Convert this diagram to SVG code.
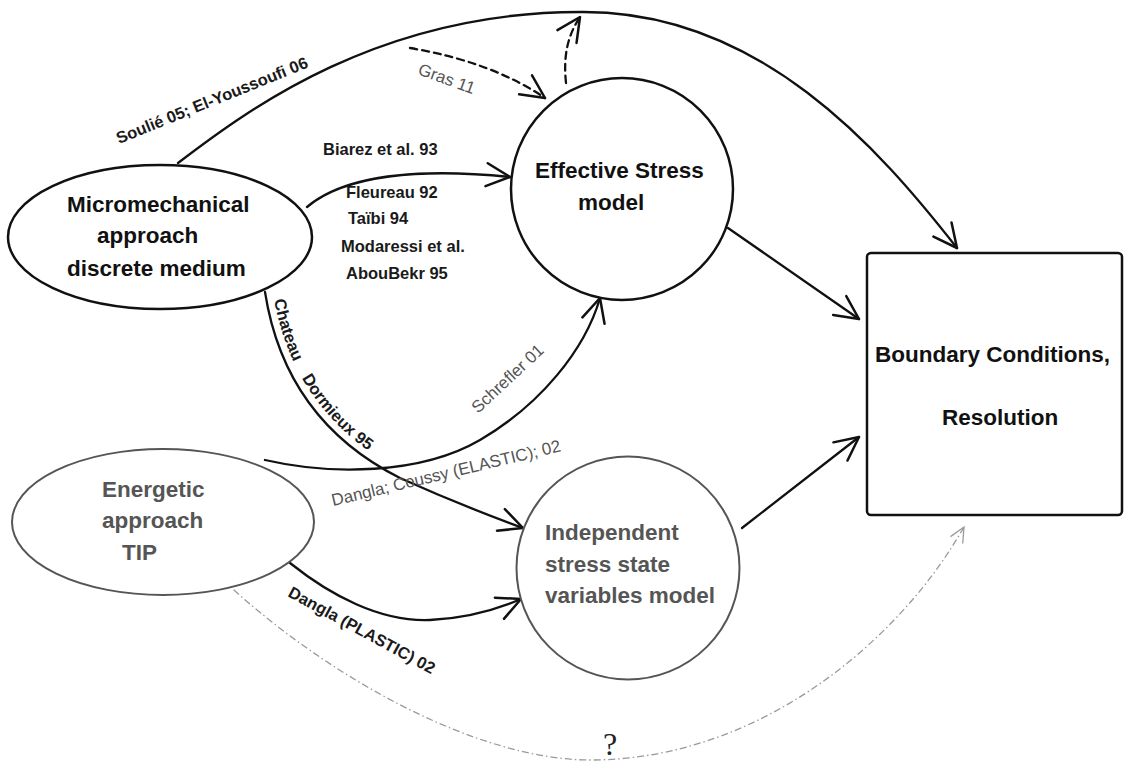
<svg xmlns="http://www.w3.org/2000/svg" width="1124" height="762" viewBox="0 0 1124 762">
  <style>
    .node { fill: #fff; }
    .blk { stroke: #111; stroke-width: 2.5; }
    .gry { stroke: #555; stroke-width: 2; }
    .title { font-family: "Liberation Sans", Arial, sans-serif; font-weight: bold; font-size: 22.5px; fill: #111; }
    .title.g { fill: #555; }
    .lbl { font-family: "Liberation Sans", Arial, sans-serif; font-weight: bold; font-size: 16.5px; fill: #1a1a1a; }
    .lblg { font-family: "Liberation Sans", Arial, sans-serif; font-size: 17px; fill: #555; }
    .conn { fill: none; stroke: #111; stroke-width: 2.3; stroke-linecap: round; }
    .dash { stroke-dasharray: 7 5; }
    .dd { fill: none; stroke: #9a9a9a; stroke-width: 1.3; stroke-dasharray: 7 3 1.5 3; }
  </style>
  <defs>
    <marker id="arr" viewBox="0 0 27 26" refX="25" refY="13" markerWidth="27" markerHeight="26" markerUnits="userSpaceOnUse" orient="auto">
      <path d="M1.5,1.5 L25,13 L1.5,24.5" fill="none" stroke="#111" stroke-width="2.5" stroke-linecap="round" stroke-linejoin="round"/>
    </marker>
    <marker id="arrg" viewBox="0 0 18 16" refX="16" refY="8" markerWidth="18" markerHeight="16" markerUnits="userSpaceOnUse" orient="auto">
      <path d="M1,1 L16,8 L1,15" fill="none" stroke="#9a9a9a" stroke-width="1.3"/>
    </marker>
  </defs>
  <rect width="1124" height="762" fill="#fff"/>

  <g id="connectors">
    <path class="conn" d="M178,163 C250,108 380,12 580,12 C760,10 880,150 957,248" marker-end="url(#arr)"/>
    <path class="conn dash" d="M410,48 Q492,62 545,98" marker-end="url(#arr)"/>
    <path class="conn dash" d="M566,83 C563,55 568,35 580,17" marker-end="url(#arr)"/>
    <path class="conn" d="M307,207 C345,175 420,168 510,177" marker-end="url(#arr)"/>
    <path class="conn" d="M265,292 Q285,420 400,478 Q460,505 523,528" marker-end="url(#arr)"/>
    <path class="conn" d="M265,460 C330,475 420,475 480,440 C540,405 585,350 600,298" marker-end="url(#arr)"/>
    <path class="conn" d="M290,563 C330,595 380,622 430,620 C470,618 500,608 521,599" marker-end="url(#arr)"/>
    <path class="conn" d="M728,228 L859,319" marker-end="url(#arr)"/>
    <path class="conn" d="M742,528 L859,437" marker-end="url(#arr)"/>
    <path class="dd" d="M223,580 C330,680 480,760 590,760 C760,760 900,640 964,527" marker-end="url(#arrg)"/>

    <path id="chp" d="M273,294 Q293,413 398,469" fill="none" stroke="none"/>
    <text class="lbl" transform="translate(119,144) rotate(-22)">Soulié 05; El-Youssoufi 06</text>
    <text class="lblg" transform="translate(417,74) rotate(20)">Gras 11</text>
    <text class="lbl" x="323" y="155">Biarez et al. 93</text>
    <text class="lbl" x="346" y="198">Fleureau 92</text>
    <text class="lbl" x="348" y="224">Taïbi 94</text>
    <text class="lbl" x="341" y="252">Modaressi et al.</text>
    <text class="lbl" x="346" y="279">AbouBekr 95</text>
    <text class="lbl"><textPath href="#chp" startOffset="6">Chateau<tspan dx="18">Dormieux 95</tspan></textPath></text>
    <text class="lblg" transform="translate(478,414) rotate(-43)">Schrefler 01</text>
    <text class="lblg" transform="translate(333,506) rotate(-13.5)">Dangla; Coussy (ELASTIC); 02</text>
    <text class="lbl" transform="translate(287,596) rotate(28.5)">Dangla (PLASTIC) 02</text>
    <text x="610" y="755" text-anchor="middle" font-family="Liberation Serif, 'Times New Roman', serif" font-size="32" fill="#222">?</text>
  </g>

  <g id="micromechanical">
    <ellipse class="node blk" cx="160" cy="237" rx="152" ry="72"/>
    <text class="title" x="67" y="212">Micromechanical</text>
    <text class="title" x="97" y="243">approach</text>
    <text class="title" x="67" y="276">discrete medium</text>
  </g>

  <g id="effective-stress">
    <circle class="node blk" cx="622" cy="189" r="111"/>
    <text class="title" x="535" y="178">Effective Stress</text>
    <text class="title" x="578" y="210">model</text>
  </g>

  <g id="energetic">
    <ellipse class="node gry" cx="163" cy="522" rx="151" ry="73"/>
    <text class="title g" x="102" y="497">Energetic</text>
    <text class="title g" x="102" y="528">approach</text>
    <text class="title g" x="122" y="560">TIP</text>
  </g>

  <g id="independent">
    <circle class="node gry" cx="628" cy="568" r="111.5"/>
    <text class="title g" x="545" y="540">Independent</text>
    <text class="title g" x="545" y="572">stress state</text>
    <text class="title g" x="545" y="603">variables model</text>
  </g>

  <g id="boundary">
    <rect class="node blk" x="867" y="253" width="255" height="262" rx="4"/>
    <text class="title" x="875" y="362">Boundary Conditions,</text>
    <text class="title" x="942" y="425">Resolution</text>
  </g>
</svg>
